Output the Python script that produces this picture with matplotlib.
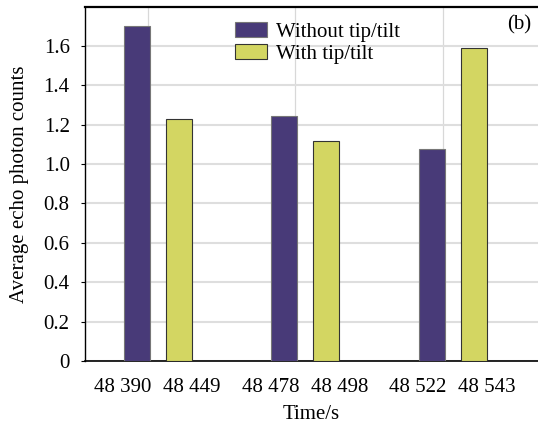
import matplotlib
matplotlib.use("Agg")
import matplotlib.pyplot as plt
import numpy as np

plt.rcParams['font.family'] = ['Liberation Serif', 'DejaVu Serif']

times_without = ["48 390", "48 478", "48 522"]
times_with = ["48 449", "48 498", "48 543"]
without_tt = [1.70, 1.245, 1.075]
with_tt = [1.228, 1.117, 1.587]
yticks = [0, 0.2, 0.4, 0.6, 0.8, 1.0, 1.2, 1.4, 1.6]
ytick_labels = ["0", "0.2", "0.4", "0.6", "0.8", "1.0", "1.2", "1.4", "1.6"]

purple = "#483a78"
yellow = "#d3d662"
FS = 15

fig = plt.figure(figsize=(5.38, 4.26), dpi=100)
ax = fig.add_axes([0.158, 0.1526, 0.842, 0.831])

g = np.arange(3)
w = 0.176
ax.bar(g - 0.075, without_tt, width=w, color=purple, edgecolor="#777777", linewidth=0.8,
       label="Without tip/tilt", zorder=3)
ax.bar(g + 0.21, with_tt, width=w, color=yellow, edgecolor="#333333", linewidth=0.8,
       label="With tip/tilt", zorder=3)

ax.set_ylim(0, 1.797)
ax.set_xlim(-0.427, 2.644)

ax.set_yticks(yticks)
ax.set_yticklabels(ytick_labels, fontsize=FS)
ax.yaxis.grid(True, color="#dedede", linewidth=1.5, zorder=0)
for x in g:
    ax.axvline(x, color="#d8d8d8", linewidth=0.9, zorder=0)

pos = np.concatenate([g - 0.169, g + 0.30])
labs = times_without + times_with
ax.set_xticks(pos)
ax.set_xticklabels(labs, fontsize=FS)
ax.tick_params(axis="x", length=0, pad=12)
ax.tick_params(axis="y", length=3, width=0.8, direction="out", pad=8)

ax.set_xlabel("Time/s", fontsize=FS, labelpad=6)
ax.set_ylabel("Average echo photon counts", fontsize=FS)
ax.yaxis.set_label_coords(-0.124, 0.5)

ax.spines["right"].set_visible(False)
ax.spines["top"].set_linewidth(1.6)
ax.spines["left"].set_linewidth(1.0)
ax.spines["bottom"].set_linewidth(1.2)

ax.legend(loc="upper left", bbox_to_anchor=(0.298, 1.0), frameon=False, fontsize=FS,
          handlelength=1.54, handleheight=0.77, handletextpad=0.43, labelspacing=0.1,
          borderaxespad=0.3)

ax.text(0.985, 0.978, "(b)", transform=ax.transAxes, ha="right", va="top", fontsize=FS)

fig.savefig("out.png", dpi=100)
